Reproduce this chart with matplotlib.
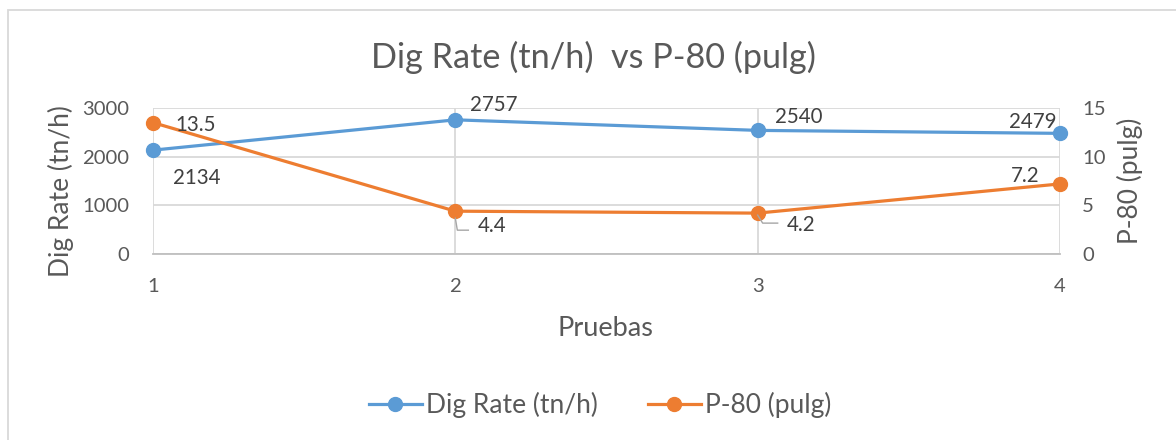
import matplotlib
matplotlib.use("Agg")
import matplotlib.pyplot as plt
from matplotlib.patches import Rectangle

# Data
pruebas = [1, 2, 3, 4]
dig_rate = [2134, 2757, 2540, 2479]
p80 = [13.5, 4.4, 4.2, 7.2]

title = "Dig Rate (tn/h)  vs P-80 (pulg)"
x_label = "Pruebas"
y_label_left = "Dig Rate (tn/h)"
y_label_right = "P-80 (pulg)"

BLUE = "#5b9bd5"
ORANGE = "#ed7d31"
TXT = "#595959"
LBL = "#404040"
GRID = "#d9d9d9"

plt.rcParams["font.family"] = ["Lato", "DejaVu Sans"]

W, H = 1176, 440
fig = plt.figure(figsize=(W / 100, H / 100), dpi=100)

# chart frame
fig.patches.append(Rectangle((8 / W, -0.2), 1.5, 1.2 - 10 / H,
                             transform=fig.transFigure, fill=False,
                             edgecolor=GRID, linewidth=1.3, clip_on=False))

left, right = 153 / W, 1060 / W
bottom, top = 1 - 254 / H, 1 - 108 / H
ax = fig.add_axes([left, bottom, right - left, top - bottom])
ax2 = ax.twinx()

ax.plot(pruebas, dig_rate, color=BLUE, lw=2.3, marker="o", ms=10,
        clip_on=False, zorder=3, label=y_label_left)
ax2.plot(pruebas, p80, color=ORANGE, lw=2.3, marker="o", ms=10,
         clip_on=False, zorder=3, label=y_label_right)

ax.set_xlim(1, 4)
ax.set_ylim(0, 3000)
ax2.set_ylim(0, 15)
ax.set_xticks(pruebas)
ax.set_yticks([0, 1000, 2000, 3000])
ax2.set_yticks([0, 5, 10, 15])

ax.grid(True, color=GRID, lw=1.3)
ax.set_axisbelow(True)
for a in (ax, ax2):
    for s in a.spines.values():
        s.set_visible(False)
ax.spines["bottom"].set_visible(True)
ax.spines["bottom"].set_color("#bfbfbf")
ax.spines["bottom"].set_linewidth(1.3)
ax.spines["bottom"].set_zorder(2)

TICK_FS = 14.6
ax.tick_params(axis="x", length=0, pad=17, labelsize=TICK_FS, labelcolor=TXT)
ax.tick_params(axis="y", length=0, pad=17, labelsize=TICK_FS, labelcolor=TXT)
ax2.tick_params(axis="y", length=0, pad=16, labelsize=TICK_FS, labelcolor=TXT)

AX_FS = 19
ax.set_xlabel(x_label, fontsize=19.5, color=TXT)
ax.xaxis.set_label_coords((605 - 153) / 907, (254 - 316) / 146)
ax.set_ylabel(y_label_left, fontsize=AX_FS, color=TXT)
ax.yaxis.set_label_coords((74 - 153) / 907, (254 - 191) / 146)
ax2.set_ylabel(y_label_right, fontsize=AX_FS, color=TXT, rotation=90)
ax2.yaxis.set_label_coords((1117 - 153) / 907, 0.5)

fig.text(593 / W, 1 - 57 / H, title, fontsize=24.7, color=TXT,
         ha="center", va="center")

# data labels: offsets in pixels from the marker
LBL_FS = 14.8
blue_off = [(20, -28, "left"), (15, 15, "left"), (17, 13, "left"), (-3, 11, "right")]
for x, v, (dx, dy, ha) in zip(pruebas, dig_rate, blue_off):
    ax.annotate(f"{v}", (x, v), xytext=(dx, dy), textcoords="offset pixels",
                ha=ha, va="center", fontsize=LBL_FS, color=LBL, zorder=5)

orange_off = [(22, -2, "left"), (22, -15, "left"), (29, -12, "left"), (-21, 8, "right")]
leaders = [None,
           [(0, -7), (2, -19), (13, -19)],
           [(0, -2), (5, -10), (20, -10)],
           None]
inv = fig.transFigure.inverted()
for x, v, (dx, dy, ha), leader in zip(pruebas, p80, orange_off, leaders):
    ax2.annotate(f"{v}", (x, v), xytext=(dx, dy), textcoords="offset pixels",
                 ha=ha, va="center", fontsize=LBL_FS, color=LBL, zorder=5)
    if leader:
        px, py = ax2.transData.transform((x, v))
        fx, fy = zip(*[inv.transform((px + ox, py + oy)) for ox, oy in leader])
        fig.add_artist(plt.Line2D(fx, fy, color="#a6a6a6", lw=1.0, zorder=4))

fig.legend(loc="center", bbox_to_anchor=(600 / W, 1 - 405 / H), ncol=2,
           frameon=False, fontsize=19, labelcolor=TXT, handlelength=2.0,
           handletextpad=0.15, columnspacing=1.9)

fig.savefig("out.png", dpi=100)
